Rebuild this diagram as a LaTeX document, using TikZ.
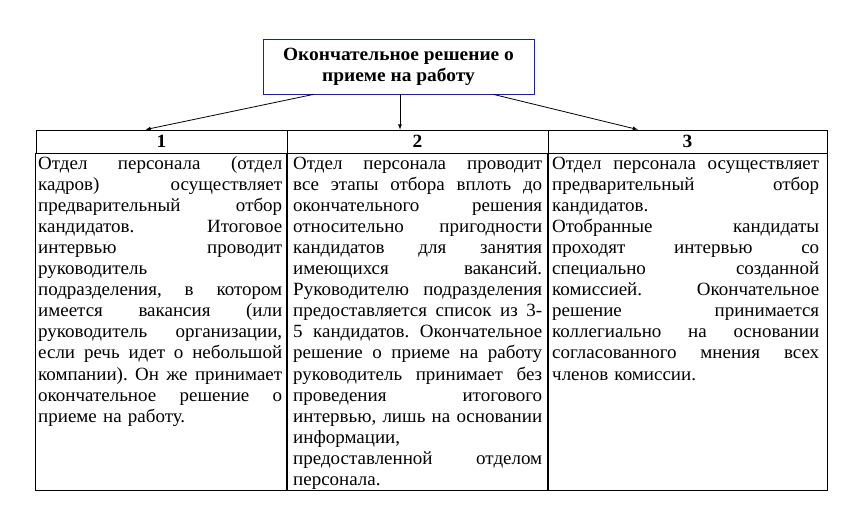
\documentclass[tikz,border=0pt]{standalone}
\usepackage{fontspec}
\setmainfont{Liberation Serif}[FakeStretch=1.017, BoldFeatures={FakeStretch=1.04}]
\frenchspacing
\usepackage{tikz}
\usetikzlibrary{arrows}
\definecolor{boxblue}{RGB}{30,30,160}
\newlength{\cellw}
\newcommand{\bodyfont}{\fontsize{18.67}{21.06}\selectfont}
\newcommand{\jl}[1]{\leavevmode\hbox to\cellw{\spaceskip=.25em plus 1fil\strut #1}\\}
\tikzset{hd/.style={draw, line width=0.8pt, minimum height=23pt, inner sep=0, font=\bodyfont\bfseries},
  txt/.style={anchor=north west, inner sep=0, text width=#1, align=left, font=\bodyfont,
    execute at begin node={\setlength{\cellw}{#1}\noindent}},
  arr/.style={-latex, line width=0.8pt}}

\begin{document}
\begin{tikzpicture}[x=1pt, y=-1pt]
    \useasboundingbox (0,0) rectangle (862,530);
    \node[draw=boxblue, line width=0.8pt, minimum width=271pt, minimum height=55pt, inner sep=0,
      align=center, font=\bodyfont\bfseries](title) at (398.5, 66.5)
      {Окончательное решение о\\приеме на работу};

    \foreach \i/\x/\w in {1/161.5/251, 2/417.5/261, 3/687.5/279}
    {
      \node[hd, minimum width=\w pt](h\i) at (\x, 141.5) {\i};
      \draw[line width=0.8pt] (h\i.south west) rectangle ([yshift=-337pt]h\i.south east);
    }

    \draw[arr] ([xshift=-85pt]title.south) -- ([xshift=-16pt]h1.north);
    \draw[arr] ([xshift=1.5pt]title.south) -- ([xshift=1.5pt]title.south |- h2.north);
    \draw[arr] ([xshift=95pt]title.south) -- ([xshift=-49.5pt]h3.north);

    \node[txt=244pt](c1) at (38, 154.5) {%
      \jl{Отдел персонала (отдел}
      \jl{кадров) осуществляет}
      \jl{предварительный отбор}
      \jl{кандидатов. Итоговое}
      \jl{интервью проводит}
      руководитель\\
      \jl{подразделения, в котором}
      \jl{имеется вакансия (или}
      \jl{руководитель организации,}
      \jl{если речь идет о небольшой}
      \jl{компании). Он же принимает}
      \jl{окончательное решение о}
      приеме на работу.};
    \node[txt=249pt](c2) at (293, 154.5) {%
      \jl{Отдел персонала проводит}
      \jl{все этапы отбора вплоть до}
      \jl{окончательного решения}
      \jl{относительно пригодности}
      \jl{кандидатов для занятия}
      \jl{имеющихся вакансий.}
      \jl{Руководителю подразделения}
      \jl{предоставляется список из 3-}
      \jl{5 кандидатов. Окончательное}
      \jl{решение о приеме на работу}
      \jl{руководитель принимает без}
      \jl{проведения итогового}
      \jl{интервью, лишь на основании}
      информации,\\
      \jl{предоставленной отделом}
      персонала.};
    \node[txt=267pt](c3) at (552, 154.5) {%
      \jl{Отдел персонала осуществляет}
      \jl{предварительный отбор}
      кандидатов.\\
      \jl{Отобранные кандидаты}
      \jl{проходят интервью со}
      \jl{специально созданной}
      \jl{комиссией. Окончательное}
      \jl{решение принимается}
      \jl{коллегиально на основании}
      \jl{согласованного мнения всех}
      членов комиссии.};
  \end{tikzpicture}
\end{document}
